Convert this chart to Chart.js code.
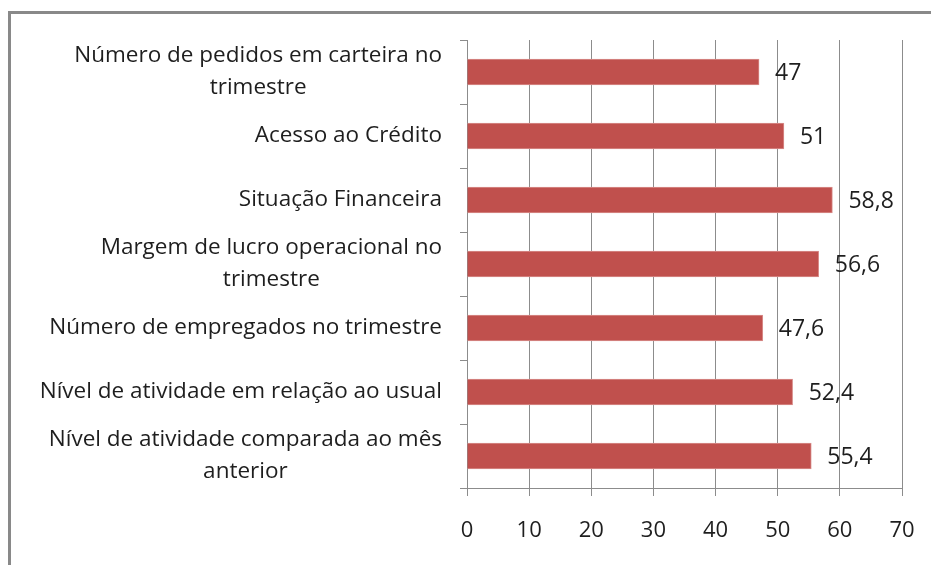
<!DOCTYPE html>
<html>
<head>
<meta charset="utf-8">
<script src="https://cdn.jsdelivr.net/npm/chart.js@4.4.1/dist/chart.umd.min.js"></script>
<style>
  html, body { margin: 0; padding: 0; background: #fff; }
  #wrap { width: 931px; height: 565px; position: relative; }
</style>
</head>
<body>
<div id="wrap"><canvas id="c" width="931" height="565"></canvas></div>
<script>
// dados do gráfico
const categories = [
  ['Número de pedidos em carteira no', 'trimestre'],
  ['Acesso ao Crédito'],
  ['Situação Financeira'],
  ['Margem de lucro operacional no', 'trimestre'],
  ['Número de empregados no trimestre'],
  ['Nível de atividade em relação ao usual'],
  ['Nível de atividade comparada ao mês', 'anterior']
];
const values = [47, 51, 58.8, 56.6, 47.6, 52.4, 55.4];
const xTicks = [0, 10, 20, 30, 40, 50, 60, 70];

const FONT = '"Open Sans", sans-serif';
const TEXT = '#1e1e1e';

// moldura cinza à volta do gráfico
const framePlugin = {
  id: 'frame',
  beforeDraw(chart) {
    const ctx = chart.ctx;
    ctx.save();
    ctx.fillStyle = '#fff';
    ctx.fillRect(0, 0, chart.width, chart.height);
    ctx.strokeStyle = '#898989';
    ctx.lineWidth = 3;
    ctx.beginPath();
    ctx.moveTo(9.5, chart.height + 5);
    ctx.lineTo(9.5, 12.5);
    ctx.lineTo(chart.width + 5, 12.5);
    ctx.stroke();
    ctx.restore();
  }
};

// rótulos das categorias (centrados em bloco, alinhados à direita)
const catLabels = {
  id: 'catLabels',
  afterDraw(chart) {
    const ctx = chart.ctx;
    const y = chart.scales.y;
    const right = 442;
    const lh = 32;
    ctx.save();
    ctx.font = '22.5px ' + FONT;
    ctx.fillStyle = TEXT;
    ctx.textAlign = 'center';
    ctx.textBaseline = 'middle';
    categories.forEach((lines, i) => {
      const w = Math.max(...lines.map(l => ctx.measureText(l).width));
      const cx = right - w / 2;
      const cy = y.getPixelForValue(i);
      const top = cy - (lines.length - 1) * lh / 2;
      lines.forEach((l, j) => ctx.fillText(l, cx, top + j * lh));
    });
    ctx.restore();
  }
};

// valores à direita das barras
const valueLabels = {
  id: 'valueLabels',
  afterDatasetsDraw(chart) {
    const ctx = chart.ctx;
    const meta = chart.getDatasetMeta(0);
    ctx.save();
    ctx.font = '23px ' + FONT;
    ctx.fillStyle = TEXT;
    ctx.textAlign = 'left';
    ctx.textBaseline = 'middle';
    meta.data.forEach((bar, i) => {
      ctx.fillText(String(values[i]).replace('.', ','), bar.x + 16, bar.y + 1);
    });
    ctx.restore();
  }
};

new Chart(document.getElementById('c'), {
  type: 'bar',
  data: {
    labels: categories.map(c => c.join(' ')),
    datasets: [{
      data: values,
      backgroundColor: '#C0504D',
      borderColor: '#d98f8d',
      borderWidth: 1,
      barThickness: 26
    }]
  },
  options: {
    indexAxis: 'y',
    responsive: false,
    animation: false,
    devicePixelRatio: 1,
    layout: { padding: { top: 40, right: 29, left: 0, bottom: 0 } },
    plugins: { legend: { display: false }, tooltip: { enabled: false } },
    scales: {
      x: {
        min: 0,
        max: 70,
        afterBuildTicks: s => { s.ticks = xTicks.map(v => ({ value: v })); },
        afterFit: s => { s.height = 77; s.paddingLeft = 0; s.paddingRight = 0; },
        grid: { color: '#8c8c8c', lineWidth: 1, tickLength: 8, drawTicks: true },
        border: { color: '#8c8c8c', width: 1 },
        ticks: { color: TEXT, font: { family: FONT, size: 22 }, padding: 22 }
      },
      y: {
        afterFit: s => { s.width = 467; },
        grid: { drawOnChartArea: false, drawTicks: true, tickLength: 7, color: '#8c8c8c', offset: true },
        border: { color: '#8c8c8c', width: 1 },
        ticks: { display: false }
      }
    }
  },
  plugins: [framePlugin, valueLabels, catLabels]
});
</script>
</body>
</html>
